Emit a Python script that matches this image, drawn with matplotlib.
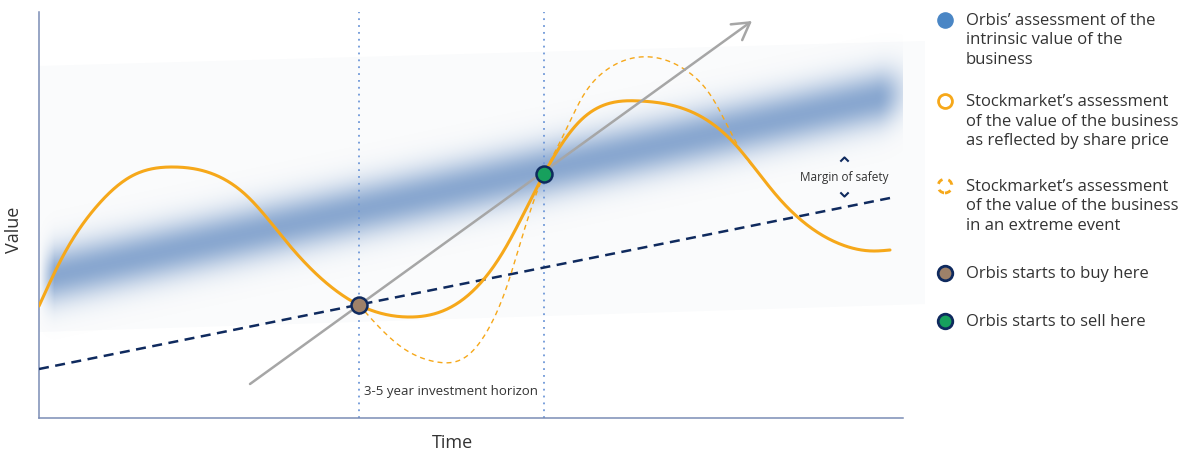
import matplotlib.pyplot as plt
import numpy as np
from matplotlib.path import Path
from matplotlib.patches import Polygon

plt.rcParams['font.family'] = ['Open Sans', 'DejaVu Sans']

# share price path (time, value)
price_t = [0, 24, 58, 91, 134, 174, 208, 251, 320, 369, 414, 464, 505, 541,
           601, 661, 694, 738, 801, 834, 851]
price_v = [112, 162, 212, 241, 251, 244, 222, 172, 113, 101, 112, 166, 244, 297,
           317, 302, 276, 222, 174, 167, 168]

# share price in an extreme event
extreme_t = [320, 361, 398, 428, 451, 468, 481, 501, 524, 544, 566, 601, 648, 674,
             701, 714]
extreme_v = [113, 72, 56, 62, 92, 132, 174, 234, 282, 322, 347, 361, 347, 319,
             269, 251]

# intrinsic value band (centre line), margin-of-safety line, trend arrow
band_t = [0, 851]
band_v = [139, 322]
safety_t = [0, 851]
safety_v = [49, 220]
trend_t = [211, 713]
trend_v = [34, 397]

horizon_t = [319.5, 505]
buy_point = (320, 113)
sell_point = (505, 244)

legend_lines = [
    ["Orbis’ assessment of the", "intrinsic value of the", "business"],
    ["Stockmarket’s assessment", "of the value of the business", "as reflected by share price"],
    ["Stockmarket’s assessment", "of the value of the business", "in an extreme event"],
    ["Orbis starts to buy here"],
    ["Orbis starts to sell here"],
]

ORANGE = '#f6a81a'
NAVY = '#0f2a5e'
TEXT = '#333333'


def natural_spline(xs, ys, n=800):
    x = np.asarray(xs, float)
    y = np.asarray(ys, float)
    h = np.diff(x)
    k = len(x)
    A = np.zeros((k, k))
    r = np.zeros(k)
    A[0, 0] = A[-1, -1] = 1
    for i in range(1, k - 1):
        A[i, i - 1] = h[i - 1]
        A[i, i] = 2 * (h[i - 1] + h[i])
        A[i, i + 1] = h[i]
        r[i] = 6 * ((y[i + 1] - y[i]) / h[i] - (y[i] - y[i - 1]) / h[i - 1])
    m = np.linalg.solve(A, r)
    xx = np.linspace(x[0], x[-1], n)
    j = np.clip(np.searchsorted(x, xx) - 1, 0, k - 2)
    a = (x[j + 1] - xx) / h[j]
    b = (xx - x[j]) / h[j]
    yy = (a * y[j] + b * y[j + 1]
          + ((a ** 3 - a) * m[j] + (b ** 3 - b) * m[j + 1]) * h[j] ** 2 / 6)
    return xx, yy


fig = plt.figure(figsize=(11.92, 4.52), dpi=100)
ax = fig.add_axes([39 / 1192, 33 / 452, 864 / 1192, 406 / 452])
ax.set_xlim(0, 864)
ax.set_ylim(0, 406)

# faint backdrop behind the band
ax.add_patch(Polygon([(0, 86), (886, 114), (886, 377), (0, 352)], closed=True,
                     facecolor='#fafbfc', edgecolor='none', zorder=0, clip_on=False))

# blurred intrinsic value band
gx, gy = np.meshgrid(np.arange(0, 864, 1.0), np.arange(0, 406, 1.0))
slope = (band_v[1] - band_v[0]) / (band_t[1] - band_t[0])
d = (gy - (band_v[0] + slope * gx)) / np.sqrt(1 + slope ** 2)
x_end = band_t[1] - 15
over = np.clip(gx - x_end, 0, None)
dist = np.sqrt(d ** 2 + over ** 2)
alpha = 0.92 * np.exp(-(dist / 27) ** 2) * np.clip(gx / 15, 0, 1)
img = np.zeros(gx.shape + (4,))
img[..., 0], img[..., 1], img[..., 2] = 0.50, 0.63, 0.80
img[..., 3] = alpha
ax.imshow(img, extent=(0, 864, 0, 406), origin='lower', aspect='auto',
          interpolation='bilinear', zorder=1)

for t in horizon_t:
    ax.axvline(t, color='#6f98d8', lw=1.3, linestyle=(0, (1, 2.8)), zorder=2)

ax.plot(safety_t, safety_v, color=NAVY, lw=1.8, linestyle=(0, (4, 2.6)), zorder=3)

sx, sy = natural_spline(extreme_t, extreme_v)
ax.plot(sx, sy, color=ORANGE, lw=1.0, linestyle=(0, (3.6, 2.9)), zorder=4)
px, py = natural_spline(price_t, price_v)
ax.plot(px, py, color=ORANGE, lw=2.2, zorder=5, solid_capstyle='round')

ax.annotate('', xy=(trend_t[1], trend_v[1]), xytext=(trend_t[0], trend_v[0]),
            arrowprops=dict(arrowstyle='->,head_length=0.6,head_width=0.35', lw=1.8,
                            color='#a6a6a6', mutation_scale=20, shrinkA=0, shrinkB=0),
            zorder=6)

ax.plot(*buy_point, 'o', ms=11.5, mfc='#9e8169', mec=NAVY, mew=1.8, zorder=7)
ax.plot(*sell_point, 'o', ms=11.5, mfc='#17a05d', mec=NAVY, mew=1.8, zorder=7)

# margin of safety note
chev_up = Path([(-1, -0.5), (0, 0.5), (1, -0.5)], [Path.MOVETO, Path.LINETO, Path.LINETO])
chev_dn = Path([(-1, 0.5), (0, -0.5), (1, 0.5)], [Path.MOVETO, Path.LINETO, Path.LINETO])
ax.text(805, 242, 'Margin of safety', fontsize=8.5, color=TEXT, ha='center', va='center')
ax.plot(805, 259, marker=chev_up, ms=6, mfc='none', mec=NAVY, mew=1.5)
ax.plot(805, 224, marker=chev_dn, ms=6, mfc='none', mec=NAVY, mew=1.5)
ax.text((horizon_t[0] + horizon_t[1]) / 2, 27, '3-5 year investment horizon',
        fontsize=9.5, color=TEXT, ha='center', va='center')

for side in ['top', 'right']:
    ax.spines[side].set_visible(False)
for side in ['left', 'bottom']:
    ax.spines[side].set_color('#7b8db5')
    ax.spines[side].set_linewidth(1.1)
ax.set_xticks([])
ax.set_yticks([])
ax.patch.set_alpha(0)

# overlay in pixel units for labels and legend
lax = fig.add_axes([0, 0, 1, 1])
lax.set_xlim(0, 1192)
lax.set_ylim(452, 0)
lax.axis('off')
lax.text(14, 230, 'Value', rotation=90, fontsize=13, color=TEXT, ha='center', va='center')
lax.text(452, 443, 'Time', fontsize=13, color=TEXT, ha='center', va='center')

marker_y = [21, 102, 187, 274, 322]
for i, (lines, my) in enumerate(zip(legend_lines, marker_y)):
    if i == 0:
        lax.scatter(945, my, s=120, color='#4a86c5', zorder=3)
    elif i == 1:
        lax.scatter(945, my, s=100, facecolor='white', edgecolor=ORANGE, linewidth=2)
    elif i == 2:
        lax.scatter(945, my, s=100, facecolor='white', edgecolor=ORANGE, linewidth=2,
                    linestyle=(0, (2.2, 2.2)))
    elif i == 3:
        lax.scatter(945, my, s=110, facecolor='#9e8169', edgecolor=NAVY, linewidth=2)
    else:
        lax.scatter(945, my, s=110, facecolor='#17a05d', edgecolor=NAVY, linewidth=2)
    for j, line in enumerate(lines):
        lax.text(966, my + j * 19.5, line, fontsize=12, color=TEXT, ha='left', va='center')

fig.savefig('out.png', dpi=100)
